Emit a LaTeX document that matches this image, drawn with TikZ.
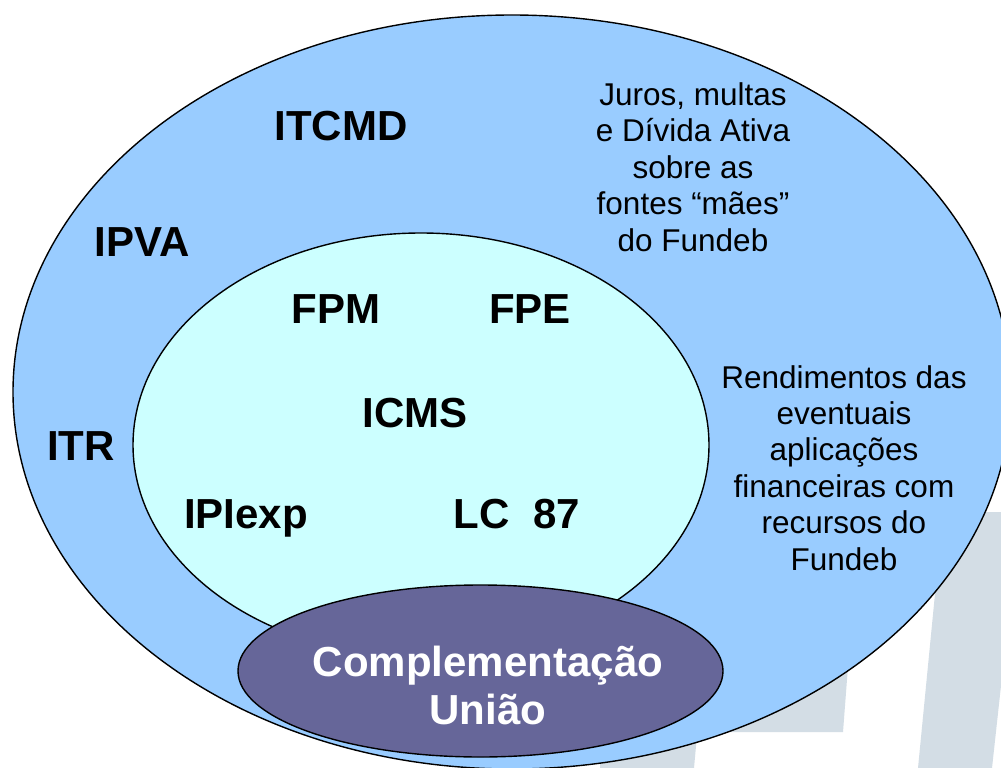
\documentclass[tikz,border=0pt]{standalone}
\usepackage{fontspec}
\setmainfont{Liberation Sans}
\definecolor{outerblue}{HTML}{99CCFF}
\definecolor{innercyan}{HTML}{CCFFFF}
\definecolor{unionpurple}{HTML}{666699}
\definecolor{wmgrey}{RGB}{211,221,229}
\begin{document}
\begin{tikzpicture}[x=1pt,y=-1pt,
  ring/.style={draw=black,line width=1.4pt},
  biglabel/.style={font=\fontsize{42}{48}\selectfont\bfseries,inner sep=0pt,anchor=base},
  note/.style={font=\fontsize{31.5}{36.4}\selectfont,align=center,inner sep=0pt,anchor=base},
  unionlabel/.style={font=\fontsize{42}{48}\selectfont\bfseries,text=white,align=center,inner sep=0pt,anchor=base},
  watermark/.style={fill=wmgrey,draw=none}]
\useasboundingbox (0,0) rectangle (1001,768);
\clip (0,0) rectangle (1001,768);
\fill[white] (0,0) rectangle (1001,768);
% watermark stripes
\path[watermark] (943,512) -- (1020,512) -- (992,768) -- (918,768) -- cycle;
\path[watermark] (650,640) -- (850,640) -- (843,732) -- (650,732) -- cycle;
\path[watermark] (600,735) -- (697,735) -- (694,768) -- (600,768) -- cycle;
% ellipses
\draw[ring,fill=outerblue] (512,392) ellipse [x radius=499,y radius=377];
\draw[ring,fill=innercyan] (421,445) ellipse [x radius=288,y radius=212];
\draw[ring,fill=unionpurple] (480.5,671) ellipse [x radius=242.5,y radius=86];
% outer labels
\node[biglabel] (itcmd) at (341,140) {ITCMD};
\node[biglabel] (ipva) at (142,256) {IPVA};
\node[biglabel] (itr) at (81,460) {ITR};
\node[note] (juros) at (693,251) {Juros, multas\\e Dívida Ativa\\sobre as\\fontes “mães”\\do Fundeb};
\node[note] (rend) at (844,570) {Rendimentos das\\eventuais\\aplicações\\financeiras com\\recursos do\\Fundeb};
% inner labels
\node[biglabel] (fpm) at (336,323) {FPM};
\node[biglabel] (fpe) at (530,323) {FPE};
\node[biglabel] (icms) at (415,427) {ICMS};
\node[biglabel] (iplexp) at (246,528) {IPIexp};
\node[biglabel] (lc) at (517,528) {LC\ \ 87};
% union
\node[unionlabel] (uniao) at (488,724) {Complementação\\União};
\end{tikzpicture}
\end{document}
